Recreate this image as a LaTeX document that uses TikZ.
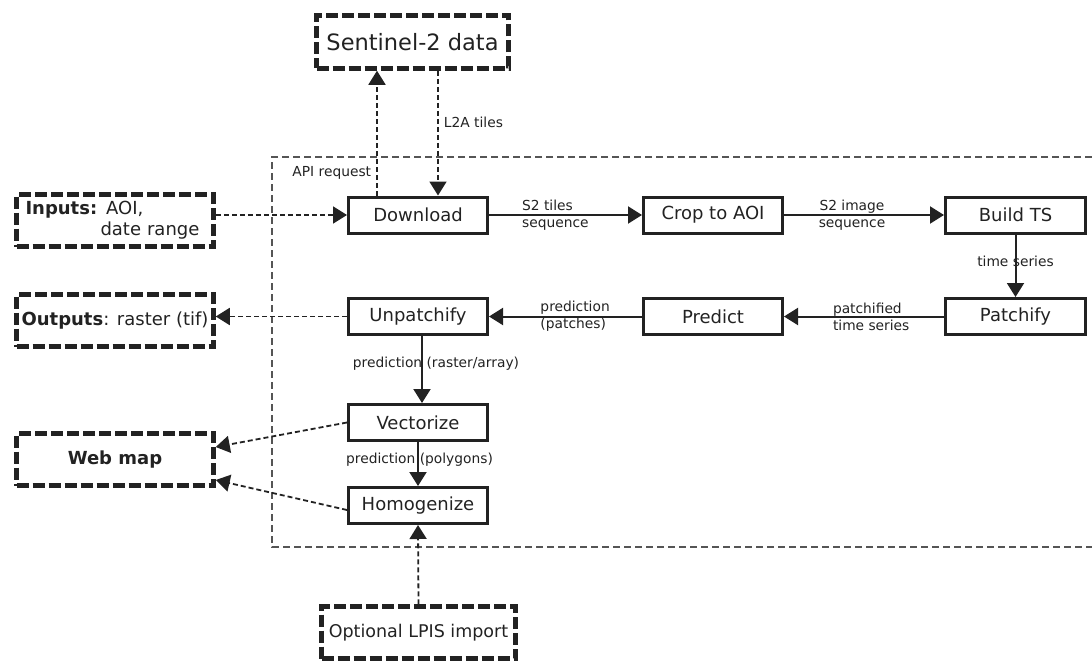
\documentclass[tikz,border=0pt]{standalone}
\usepackage{fontspec}
\setmainfont{DejaVu Sans}
\usetikzlibrary{arrows.meta}
\definecolor{ink}{HTML}{222222}
\definecolor{regiongray}{HTML}{555555}
\tikzset{
  procbox/.style={draw=ink, line width=3pt, minimum width=139pt, minimum height=36pt, inner sep=0pt, text=ink, font=\fontsize{18}{21}\selectfont},
  ioblock/.style={draw=ink, line width=4.5pt, dash pattern=on 12pt off 4pt, minimum width=197pt, minimum height=52pt, inner sep=0pt, text=ink, font=\fontsize{18}{21}\selectfont},
  tip/.style={-{Triangle[length=14pt,width=17pt]}},
  solidconn/.style={draw=ink, line width=2pt, tip},
  dashconn/.style={draw=ink, line width=1.8pt, dash pattern=on 5pt off 3pt, tip},
  lbl/.style={font=\fontsize{13.8}{17}\selectfont, text=ink, inner sep=0pt},
}
\begin{document}
\begin{tikzpicture}[x=1pt,y=-1pt]
\useasboundingbox (0,0) rectangle (1092,661);
% processing region
\draw[regiongray, line width=1.5pt, dash pattern=on 7pt off 4pt] (1092,157) -- (272,157) -- (272,547) -- (1092,547);
% external blocks
\node[ioblock, minimum width=192pt, minimum height=53pt, font=\fontsize{22.5}{26}\selectfont] (sent) at (412.5,42) {Sentinel-2 data};
\node[ioblock, align=left, text width=179pt] (inputs) at (115,220.5) {\textbf{Inputs:} AOI,\\\hspace*{75pt}date range};
\node[ioblock] (outputs) at (115,320.5) {\textbf{Outputs}: raster (tif)};
\node[ioblock] (webmap) at (115,459.5) {\textbf{Web map}};
\node[ioblock, minimum width=194pt, font=\fontsize{17.5}{21}\selectfont] (lpis) at (418.5,632.5) {Optional LPIS import};
% processing steps
\node[procbox] (download) at (418,215) {Download};
\node[procbox] (crop) at (713,215) {Crop to AOI};
\node[procbox, minimum width=140pt] (buildts) at (1015.5,215) {Build TS};
\node[procbox, minimum width=140pt] (patchify) at (1015.5,316.5) {Patchify};
\node[procbox] (predict) at (713,316.5) {Predict};
\node[procbox] (unpatchify) at (418,316.5) {Unpatchify};
\node[procbox] (vectorize) at (418,422.5) {Vectorize};
\node[procbox] (homogenize) at (418,505.5) {Homogenize};
% connectors
\draw[dashconn] ([xshift=-41pt]download.north) -- node[lbl, pos=0.18, left=5pt] {API request} ([xshift=-41pt]download.north |- sent.south);
\draw[dashconn] ([xshift=25.5pt]sent.south) -- node[lbl, pos=0.41, right=5pt] {L2A tiles} ([xshift=25.5pt]sent.south |- download.north);
\draw[dashconn] (inputs.east |- download.west) -- (download.west);
\draw[solidconn] (download.east) -- node[lbl, pos=0.21, anchor=west, align=left] {S2 tiles\\sequence} (crop.west);
\draw[solidconn] (crop.east) -- node[lbl, pos=0.425, align=center] {S2 image\\sequence} (buildts.west);
\draw[solidconn] (buildts.south) -- node[lbl, pos=0.43] {time series} (patchify.north);
\draw[solidconn] (patchify.west) -- node[lbl, pos=0.70, anchor=west, align=left] {patchified\\time series} (predict.east);
\draw[solidconn] (predict.west) -- node[lbl, pos=0.67, anchor=west, align=left] {prediction\\(patches)} (unpatchify.east);
\draw[dashconn] (unpatchify.west) -- (outputs.east |- unpatchify.west);
\draw[solidconn] ([xshift=4pt]unpatchify.south) -- node[lbl, pos=0.42, xshift=14pt] {prediction (raster/array)} ([xshift=4pt]vectorize.north);
\draw[solidconn] (vectorize.south) -- node[lbl, pos=0.41, xshift=1.5pt] {prediction (polygons)} (homogenize.north);
\draw[dashconn] (vectorize.west) -- ([yshift=12.5pt]webmap.east);
\draw[dashconn] ([yshift=-4.5pt]homogenize.west) -- ([yshift=-20.5pt]webmap.east);
\draw[dashconn] (lpis.north) -- (homogenize.south);
\end{tikzpicture}
\end{document}
